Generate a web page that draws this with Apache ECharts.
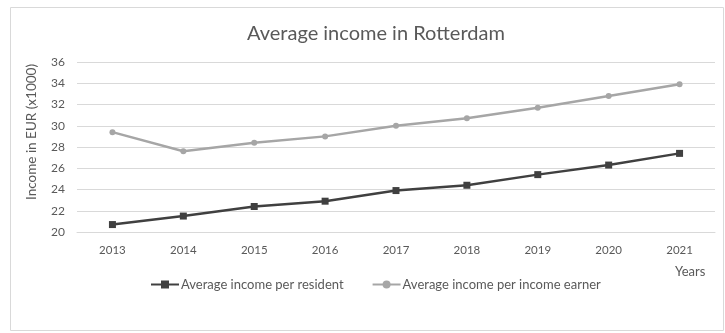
<!DOCTYPE html>
<html>
<head>
<meta charset="utf-8">
<script src="https://cdn.jsdelivr.net/npm/echarts@6/dist/echarts.min.js"></script>
<style>
  html, body { margin: 0; padding: 0; background: #fff; }
  #chart { width: 725px; height: 333px; }
</style>
</head>
<body>
<div id="chart"></div>
<script>
// data
var years = ['2013', '2014', '2015', '2016', '2017', '2018', '2019', '2020', '2021'];
var perResident = [20.7, 21.5, 22.4, 22.9, 23.9, 24.4, 25.4, 26.3, 27.4];
var perEarner = [29.4, 27.6, 28.4, 29.0, 30.0, 30.7, 31.7, 32.8, 33.9];

var font = 'Lato';
var grey = '#595959';

var chart = echarts.init(document.getElementById('chart'));
chart.setOption({
  animation: false,
  textStyle: { fontFamily: font },
  title: {
    text: 'Average income in Rotterdam',
    left: 242,
    top: 19,
    textStyle: { fontFamily: font, fontSize: 20, fontWeight: 'normal', color: grey }
  },
  graphic: [
    {
      type: 'rect',
      shape: { x: 10.5, y: 7.5, width: 713, height: 323 },
      style: { fill: 'none', stroke: '#d9d9d9', lineWidth: 1 },
      silent: true
    },
    {
      type: 'text',
      left: 675, top: 265,
      style: { text: 'Years', fontFamily: font, fontSize: 13, fill: grey }
    },
    {
      type: 'text',
      x: 32, y: 132,
      rotation: Math.PI / 2,
      style: {
        text: 'Income in EUR (x1000)', fontFamily: font, fontSize: 13.5, fill: grey,
        align: 'center', verticalAlign: 'middle'
      }
    }
  ],
  grid: { left: 77, right: 10, top: 62, bottom: 101 },
  legend: {
    bottom: 37,
    left: 145,
    itemGap: 28,
    itemWidth: 28,
    itemHeight: 10,
    textStyle: { fontFamily: font, fontSize: 13, color: grey, padding: [0, 0, 0, -3] },
    data: ['Average income per resident', 'Average income per income earner']
  },
  xAxis: {
    type: 'category',
    data: years,
    boundaryGap: true,
    axisLine: { lineStyle: { color: '#d9d9d9' } },
    axisTick: { show: false },
    axisLabel: { color: grey, fontSize: 11.5, margin: 12 }
  },
  yAxis: {
    type: 'value',
    min: 20,
    max: 36,
    interval: 2,
    axisLine: { show: false },
    axisTick: { show: false },
    axisLabel: { color: grey, fontSize: 12, margin: 12 },
    splitLine: { lineStyle: { color: '#d9d9d9' } }
  },
  series: [
    {
      name: 'Average income per resident',
      type: 'line',
      data: perResident,
      symbol: 'rect',
      symbolSize: 7,
      color: '#404040',
      lineStyle: { width: 2.5, color: '#404040' },
      itemStyle: { color: '#404040' }
    },
    {
      name: 'Average income per income earner',
      type: 'line',
      data: perEarner,
      symbol: 'circle',
      symbolSize: 6,
      color: '#a6a6a6',
      lineStyle: { width: 2.5, color: '#a6a6a6' },
      itemStyle: { color: '#a6a6a6' }
    }
  ]
});
</script>
</body>
</html>
